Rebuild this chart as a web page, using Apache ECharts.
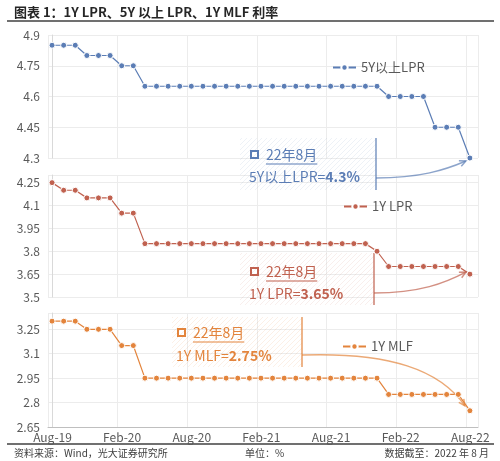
<!DOCTYPE html>
<html>
<head>
<meta charset="utf-8">
<script src="https://cdn.jsdelivr.net/npm/echarts@6/dist/echarts.min.js"></script>
<style>
html,body{margin:0;padding:0;background:#fff}
#chart{width:500px;height:461px}
</style>
</head>
<body>
<div id="chart"></div>
<script>
var months = ['Aug-19','Sep-19','Oct-19','Nov-19','Dec-19','Jan-20','Feb-20','Mar-20','Apr-20','May-20','Jun-20','Jul-20',
    'Aug-20','Sep-20','Oct-20','Nov-20','Dec-20','Jan-21','Feb-21','Mar-21','Apr-21','May-21','Jun-21','Jul-21',
    'Aug-21','Sep-21','Oct-21','Nov-21','Dec-21','Jan-22','Feb-22','Mar-22','Apr-22','May-22','Jun-22','Jul-22','Aug-22'];
var tickLabels = ['Aug-19','Feb-20','Aug-20','Feb-21','Aug-21','Feb-22','Aug-22'];

var lpr5y = [4.85,4.85,4.85,4.80,4.80,4.80,4.75,4.75,
    4.65,4.65,4.65,4.65,4.65,4.65,4.65,4.65,4.65,4.65,4.65,4.65,4.65,4.65,4.65,4.65,4.65,4.65,4.65,4.65,4.65,
    4.60,4.60,4.60,4.60,4.45,4.45,4.45,4.30];
var lpr1y = [4.25,4.20,4.20,4.15,4.15,4.15,4.05,4.05,
    3.85,3.85,3.85,3.85,3.85,3.85,3.85,3.85,3.85,3.85,3.85,3.85,3.85,3.85,3.85,3.85,3.85,3.85,3.85,3.85,
    3.80,3.70,3.70,3.70,3.70,3.70,3.70,3.70,3.65];
var mlf = [3.30,3.30,3.30,3.25,3.25,3.25,3.15,3.15,
    2.95,2.95,2.95,2.95,2.95,2.95,2.95,2.95,2.95,2.95,2.95,2.95,2.95,2.95,2.95,2.95,2.95,2.95,2.95,2.95,2.95,
    2.85,2.85,2.85,2.85,2.85,2.85,2.85,2.75];

var FONT = '"Noto Sans CJK SC", "Noto Sans", sans-serif';
var cBlue = '#5b7db5', cRed = '#c0614f', cOrange = '#e3843c';
var xMin = -0.35, xMax = 36.7;

function pairs(arr) {
    return arr.map(function (v, i) { return [i, v]; });
}

function xAxisOpt(idx, showLabel) {
    return {
        type: 'value', gridIndex: idx, min: xMin, max: xMax, interval: 6,
        axisLine: { show: showLabel, lineStyle: { color: '#bfbfbf' } },
        axisTick: { show: false },
        splitLine: { show: true, lineStyle: { color: '#ececec' } },
        axisLabel: {
            show: showLabel, color: '#595959', fontSize: 12, fontFamily: FONT, margin: 4,
            padding: [0, 0, 0, 9], showMaxLabel: false,
            formatter: function (v) {
                var i = Math.round((v - xMin) / 6);
                return tickLabels[i] || '';
            }
        }
    };
}

function yAxisOpt(idx, min, max) {
    return {
        type: 'value', gridIndex: idx, min: min, max: max, interval: 0.15,
        axisLine: { show: true, lineStyle: { color: '#d9d9d9' } },
        axisTick: { show: false },
        splitLine: { lineStyle: { color: '#ececec' } },
        axisLabel: {
            color: '#595959', fontSize: 12, fontFamily: FONT, margin: 8, showMaxLabel: max === 4.9,
            formatter: function (v) { return String(Math.round(v * 100) / 100); }
        }
    };
}

function lineSeries(name, data, color, idx) {
    return {
        name: name, type: 'line', xAxisIndex: idx, yAxisIndex: idx,
        data: pairs(data), symbol: 'circle', symbolSize: 6, clip: false,
        lineStyle: { color: color, width: 1.2 },
        itemStyle: { color: color, borderColor: '#fff', borderWidth: 1 },
        animation: false
    };
}

function legendOpt(name, left, top) {
    return {
        data: [name], left: left, top: top, itemWidth: 23, itemHeight: 8, itemGap: 4,
        textStyle: { color: '#595959', fontSize: 13, fontFamily: FONT }
    };
}

var chart = echarts.init(document.getElementById('chart'));
var option = {
    backgroundColor: '#fff',
    animation: false,
    grid: [
        { left: 48, right: 22, top: 35, height: 123 },
        { left: 48, right: 22, top: 175, height: 122 },
        { left: 48, right: 22, top: 313, height: 114 }
    ],
    xAxis: [xAxisOpt(0, false), xAxisOpt(1, false), xAxisOpt(2, true)],
    yAxis: [yAxisOpt(0, 4.3, 4.9), yAxisOpt(1, 3.5, 4.3), yAxisOpt(2, 2.65, 3.35)],
    legend: [
        legendOpt('5Y以上LPR', 327, 56),
        legendOpt('1Y LPR', 338, 195),
        legendOpt('1Y MLF', 337, 335)
    ],
    series: [
        lineSeries('5Y以上LPR', lpr5y, cBlue, 0),
        lineSeries('1Y LPR', lpr1y, cRed, 1),
        lineSeries('1Y MLF', mlf, cOrange, 2)
    ]
};
chart.setOption(option);

// hatched pattern for annotation boxes
function hatch(color) {
    var c = document.createElement('canvas');
    c.width = 5; c.height = 5;
    var ctx = c.getContext('2d');
    ctx.strokeStyle = color;
    ctx.lineWidth = 1;
    ctx.beginPath();
    ctx.moveTo(0, 5); ctx.lineTo(5, 0);
    ctx.moveTo(-1, 1); ctx.lineTo(1, -1);
    ctx.moveTo(4, 6); ctx.lineTo(6, 4);
    ctx.stroke();
    return { image: c, repeat: 'repeat' };
}

var measure = document.createElement('canvas').getContext('2d');
function textW(str, font) {
    measure.font = font;
    return measure.measureText(str).width;
}

function annotation(box, color, light, label, value, lastPt, curve) {
    var els = [];
    var f1 = '14px ' + FONT, f2 = 'bold 14px ' + FONT;
    els.push({ type: 'rect', shape: { x: box.x, y: box.y, width: box.w, height: box.h },
        style: { fill: hatch(light) }, silent: true });
    els.push({ type: 'line', shape: { x1: box.x + box.w, y1: box.y, x2: box.x + box.w, y2: box.y + box.h },
        style: { stroke: color, lineWidth: 1.5, opacity: 0.8 } });
    els.push({ type: 'rect', shape: { x: box.tx + 2, y: box.row1 - 4, width: 7, height: 7 },
        style: { fill: 'none', stroke: color, lineWidth: 2 } });
    var dx = box.tx + 17;
    var w1 = textW('22年8月', f1);
    els.push({ type: 'text', x: dx, y: box.row1, style: { text: '22年8月', font: f1, fill: color, verticalAlign: 'middle' } });
    els.push({ type: 'line', shape: { x1: dx, y1: box.row1 + 9, x2: dx + w1, y2: box.row1 + 9 },
        style: { stroke: color, lineWidth: 1 } });
    els.push({ type: 'text', x: box.tx, y: box.row2, style: { text: label, font: f1, fill: color, verticalAlign: 'middle' } });
    els.push({ type: 'text', x: box.tx + textW(label, f1), y: box.row2,
        style: { text: value, font: f2, fill: color, verticalAlign: 'middle' } });

    // arrow to the last point
    var sx = box.x + box.w, sy = curve.sy;
    var ex = lastPt[0] + curve.ox, ey = lastPt[1] + curve.oy;
    els.push({ type: 'bezierCurve',
        shape: { x1: sx, y1: sy, x2: ex, y2: ey, cpx1: curve.c1[0], cpy1: curve.c1[1], cpx2: curve.c2[0], cpy2: curve.c2[1] },
        style: { stroke: color, lineWidth: 1.5, fill: 'none', opacity: 0.7 } });
    var ang = Math.atan2(ey - curve.c2[1], ex - curve.c2[0]);
    var L = 7, s = 0.45;
    els.push({ type: 'polyline',
        shape: { points: [
            [ex - L * Math.cos(ang - s), ey - L * Math.sin(ang - s)],
            [ex, ey],
            [ex - L * Math.cos(ang + s), ey - L * Math.sin(ang + s)]
        ] },
        style: { stroke: color, lineWidth: 1.5, fill: 'none', opacity: 0.7 } });
    return els;
}

var n = months.length - 1;
var p5 = chart.convertToPixel({ gridIndex: 0 }, [n, lpr5y[n]]);
var p1 = chart.convertToPixel({ gridIndex: 1 }, [n, lpr1y[n]]);
var pm = chart.convertToPixel({ gridIndex: 2 }, [n, mlf[n]]);

var g = [];
g = g.concat(annotation({ x: 240, y: 138, w: 136, h: 52, tx: 249, row1: 155, row2: 177 },
    cBlue, 'rgba(91,125,181,0.10)', '5Y以上LPR=', '4.3%', p5,
    { sy: 178, ox: -4, oy: 3, c1: [420, 178], c2: [445, 170] }));
g = g.concat(annotation({ x: 240, y: 253, w: 134, h: 52, tx: 249, row1: 272, row2: 294 },
    cRed, 'rgba(192,97,79,0.10)', '1Y LPR=', '3.65%', p1,
    { sy: 293, ox: -4, oy: -2, c1: [420, 293], c2: [445, 283] }));
g = g.concat(annotation({ x: 172, y: 317, w: 130, h: 50, tx: 176, row1: 333, row2: 356 },
    cOrange, 'rgba(227,132,60,0.12)', '1Y MLF=', '2.75%', pm,
    { sy: 355, ox: -5, oy: -5, c1: [390, 352], c2: [440, 370] }));

// title, rules and footer
g.push({ type: 'text', x: 14, y: 12, style: { text: '图表 1：1Y LPR、5Y 以上 LPR、1Y MLF 利率', font: 'bold 13px ' + FONT, fill: '#262626', verticalAlign: 'middle' } });
g.push({ type: 'line', shape: { x1: 7, y1: 21, x2: 494, y2: 21 }, style: { stroke: '#404040', lineWidth: 1.5 } });
g.push({ type: 'line', shape: { x1: 7, y1: 444, x2: 494, y2: 444 }, style: { stroke: '#404040', lineWidth: 1.5 } });
g.push({ type: 'text', x: 14, y: 453, style: { text: '资料来源：Wind，光大证券研究所', font: '10px ' + FONT, fill: '#404040', verticalAlign: 'middle' } });
g.push({ type: 'text', x: 245, y: 453, style: { text: '单位：%', font: '10px ' + FONT, fill: '#404040', verticalAlign: 'middle' } });
g.push({ type: 'text', x: 489, y: 453, style: { text: '数据截至：2022 年 8 月', font: '10px ' + FONT, fill: '#404040', verticalAlign: 'middle', align: 'right' } });

chart.setOption({ graphic: g });
</script>
</body>
</html>
